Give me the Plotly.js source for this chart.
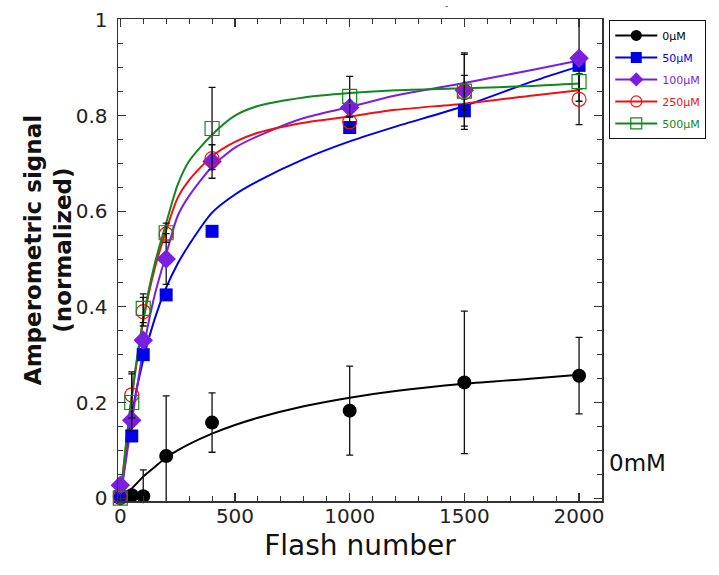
<!DOCTYPE html>
<html>
<head>
<meta charset="utf-8">
<script src="https://cdn.plot.ly/plotly-3.0.1.min.js"></script>
<style>html,body{margin:0;padding:0;background:#fff;}#chart{width:719px;height:575px;}</style>
</head>
<body>
<div id="chart"></div>
<script>
// ---- data ----
const seriesNames = ['0µM', '50µM', '100µM', '250µM', '500µM'];
const flashX = [0, 50, 100, 200, 400, 1000, 1500, 2000];

const y0uM   = [0, 0.006, 0.004, 0.088, 0.158, 0.183, 0.242, 0.256];
const y50uM  = [0.003, 0.13, 0.30, 0.425, 0.558, 0.775, 0.81, 0.905];
const y100uM = [0.027, 0.163, 0.33, 0.50, 0.704, 0.817, 0.853, 0.92];
const y250uM = [0.003, 0.216, 0.39, 0.552, 0.71, 0.787, 0.848, 0.834];
const y500uM = [0.0, 0.2, 0.397, 0.555, 0.773, 0.84, 0.851, 0.871];

const err0uM   = [NaN, NaN, 0.055, 0.126, 0.062, 0.093, 0.149, 0.08];
const err100uM = [NaN, NaN, NaN, 0.053, 0.035, NaN, 0.075, 0.09];
const err250uM = [NaN, 0.048, 0.03, NaN, NaN, 0.01, 0.036, 0.053];
const err500uM = [NaN, 0.06, 0.03, 0.02, 0.086, 0.042, 0.08, 0.015];

// fitted curves
const fitX = [0, 25, 50, 100, 150, 200, 250, 300, 400, 500, 600, 800, 1000, 1200, 1500, 1800, 2000];
const fit0uM   = [0, 0.01, 0.02, 0.045, 0.065, 0.085, 0.1, 0.113, 0.135, 0.153, 0.168, 0.192, 0.21, 0.224, 0.239, 0.25, 0.258];
const fit50uM  = [0, 0.09, 0.175, 0.29, 0.375, 0.44, 0.49, 0.53, 0.597, 0.635, 0.663, 0.709, 0.746, 0.777, 0.82, 0.872, 0.903];
const fit100uM = [0, 0.08, 0.16, 0.31, 0.425, 0.51, 0.59, 0.632, 0.693, 0.733, 0.757, 0.795, 0.818, 0.842, 0.868, 0.896, 0.915];
const fit250uM = [0, 0.11, 0.21, 0.37, 0.48, 0.56, 0.628, 0.665, 0.715, 0.745, 0.764, 0.785, 0.798, 0.812, 0.825, 0.842, 0.853];
const fit500uM = [0, 0.115, 0.215, 0.375, 0.49, 0.575, 0.655, 0.705, 0.76, 0.80, 0.82, 0.838, 0.847, 0.853, 0.857, 0.862, 0.867];

const xTickVals = [0, 500, 1000, 1500, 2000];
const yTickVals = [0, 0.2, 0.4, 0.6, 0.8, 1];
const yTickText = ['0', '0.2', '0.4', '0.6', '0.8', '1'];

// ---- styling ----
const colors = ['#000000', '#0000e6', '#7a1fe0', '#ee1111', '#11881e'];
const symbols = ['circle', 'square', 'diamond', 'circle-open', 'square-open'];
const sizes = [14, 13, 15, 14, 14];
const pointY = [y0uM, y50uM, y100uM, y250uM, y500uM];
const errs = [err0uM, null, err100uM, err250uM, err500uM];
const fits = [fit0uM, fit50uM, fit100uM, fit250uM, fit500uM];

const traces = [];
for (let i = 0; i < 5; i++) {
  traces.push({
    x: fitX, y: fits[i], mode: 'lines', type: 'scatter',
    line: {color: colors[i], width: 2, shape: 'spline', smoothing: 0.7},
    showlegend: false, hoverinfo: 'skip'
  });
}
for (let i = 0; i < 5; i++) {
  const tr = {
    x: flashX, y: pointY[i], mode: 'markers', type: 'scatter',
    marker: {symbol: symbols[i], size: sizes[i], color: colors[i],
             line: {color: colors[i], width: (i >= 3 ? 1.2 : 0)}},
    showlegend: false, cliponaxis: false
  };
  if (errs[i]) {
    tr.error_y = {type: 'data', array: errs[i], visible: true, color: '#111', thickness: 1.3, width: 3.5};
  }
  traces.push(tr);
}
for (let i = 0; i < 5; i++) {
  traces.push({
    x: [null], y: [null], mode: 'lines+markers', type: 'scatter',
    name: '<span style="color:' + colors[i] + '">' + seriesNames[i] + '</span>',
    line: {color: colors[i], width: 2},
    marker: {symbol: symbols[i], size: 11, color: colors[i], line: {color: colors[i], width: (i >= 3 ? 1.2 : 0)}},
    legendgroup: 'g' + i, showlegend: true
  });
}

const font = '"DejaVu Sans", Verdana, sans-serif';
const layout = {
  width: 719, height: 575,
  margin: {l: 118, r: 117, t: 19, b: 74},
  paper_bgcolor: '#ffffff', plot_bgcolor: '#ffffff',
  font: {family: font, color: '#222'},
  showlegend: true,
  legend: {
    x: 1.015, y: 0.998, xanchor: 'left', yanchor: 'top',
    bordercolor: '#111', borderwidth: 1, bgcolor: '#fff',
    font: {family: font, size: 11},
    tracegroupgap: 3, itemwidth: 42
  },
  xaxis: {
    range: [-10, 2100], showgrid: false, zeroline: false,
    showline: true, linecolor: '#333', linewidth: 1.5, mirror: 'ticks',
    ticks: 'inside', ticklen: 8, tickwidth: 1.2, tickcolor: '#333',
    tickvals: xTickVals, ticklabelstandoff: -4,
    minor: {dtick: 100, ticks: 'inside', ticklen: 5, tickwidth: 1, tickcolor: '#333'},
    tickfont: {family: font, size: 20, color: '#222'},
    title: {text: 'Flash number', font: {family: font, size: 28, color: '#111'}, standoff: 9}
  },
  yaxis: {
    range: [-0.006, 1.002], showgrid: false, zeroline: false,
    showline: true, linecolor: '#333', linewidth: 1.5, mirror: 'ticks',
    ticks: 'inside', ticklen: 8, tickwidth: 1.2, tickcolor: '#333',
    tickvals: yTickVals, ticktext: yTickText, ticklabelstandoff: 5,
    minor: {dtick: 0.05, ticks: 'inside', ticklen: 5, tickwidth: 1, tickcolor: '#333'},
    tickfont: {family: font, size: 20, color: '#222'}
  },
  annotations: [
    {xref: 'paper', yref: 'paper', x: -0.143, y: 0.52, xanchor: 'center', yanchor: 'middle',
     textangle: -90, text: '<b>Amperometric signal<br>(normalized)</b>', showarrow: false,
     font: {family: font, size: 23, color: '#111'}},
    {xref: 'paper', yref: 'paper', x: 1.011, y: 0.078, xanchor: 'left', yanchor: 'middle',
     text: '0mM', showarrow: false, font: {family: font, size: 23, color: '#111'}},
    {xref: 'paper', yref: 'paper', x: 0.678, y: 1.027, xanchor: 'center', yanchor: 'middle',
     text: '-', showarrow: false, font: {family: font, size: 9, color: '#333'}}
  ]
};

Plotly.newPlot('chart', traces, layout, {displayModeBar: false, staticPlot: true});
</script>
</body>
</html>
